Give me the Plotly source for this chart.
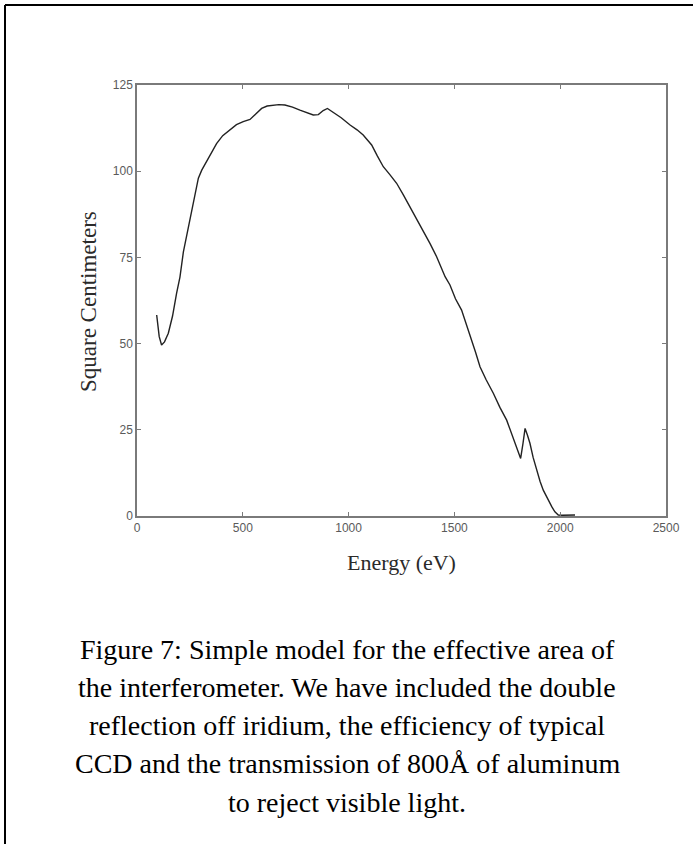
import plotly.graph_objects as go

# Energy (eV) and effective area (square centimeters)
energy = [93, 105, 116, 130, 148, 168, 187, 203, 219, 235, 250, 270, 290, 306, 325, 345, 376, 405,
          440, 470, 502, 534, 560, 589, 615, 644, 670, 699, 735, 770, 800, 833, 857, 880, 900,
          928, 965, 1007, 1040, 1069, 1109, 1135, 1164, 1195, 1227, 1260, 1290, 1320, 1353, 1385,
          1416, 1456, 1479, 1505, 1534, 1555, 1574, 1600, 1621, 1650, 1684, 1715, 1747, 1770,
          1786, 1800, 1813, 1824, 1834, 1845, 1857, 1872, 1889, 1905, 1920, 1940, 1960, 1975,
          1991, 2010, 2040, 2070]
area = [58.3, 52.0, 49.6, 50.5, 53.0, 58.0, 64.6, 69.3, 76.5, 81.5, 85.5, 92.0, 98.0, 100.3, 102.5,
        104.5, 108.0, 110.3, 112.0, 113.5, 114.4, 115.0, 116.5, 118.2, 118.9, 119.2, 119.3, 119.2,
        118.6, 117.7, 117.0, 116.3, 116.4, 117.6, 118.2, 117.0, 115.5, 113.4, 112.0, 110.5, 107.6,
        104.5, 101.3, 99.0, 96.5, 93.0, 89.7, 86.3, 82.9, 79.0, 75.2, 69.4, 67.0, 63.0, 59.7, 56.0,
        52.0, 47.5, 43.3, 39.5, 35.6, 31.5, 27.8, 24.0, 21.1, 18.5, 16.7, 21.0, 25.4, 23.5, 21.1,
        17.0, 13.3, 10.0, 7.5, 5.0, 2.7, 1.2, 0.3, 0.2, 0.2, 0.3]

x_ticks = [0, 500, 1000, 1500, 2000, 2500]
y_ticks = [0, 25, 50, 75, 100, 125]

x_title = "Energy (eV)"
y_title = "Square Centimeters"
caption_lines = [
    "Figure 7: Simple model for the effective area of",
    "the interferometer. We have included the double",
    "reflection off iridium, the efficiency of typical",
    "CCD and the transmission of 800Å of aluminum",
    "to reject visible light.",
]

W, H = 693, 844
L, R, T, B = 137, 666, 85, 516  # plot area in pixels


def px_to_paper_x(px):
    return (px - L) / (R - L)


def px_to_paper_y(py):
    return (B - py) / (B - T)


fig = go.Figure()
fig.add_trace(go.Scatter(x=energy, y=area, mode="lines",
                         line=dict(color="#222222", width=1.4), showlegend=False))

tickfont = dict(family="Liberation Sans Narrow, Arial Narrow, Liberation Sans, Arial",
                size=12, color="#5a5a5a")
axis_common = dict(showgrid=False, zeroline=False, showline=True, linecolor="#7a7a7a",
                   linewidth=1.5, mirror="ticks", ticks="inside", ticklen=4,
                   tickcolor="#7a7a7a", tickwidth=1, tickfont=tickfont)

fig.update_xaxes(range=[0, 2500], tickvals=x_ticks, ticktext=[str(v) for v in x_ticks],
                 **axis_common)
fig.update_yaxes(range=[0, 125], tickvals=y_ticks, ticktext=[str(v) for v in y_ticks],
                 **axis_common)

serif = "Liberation Serif, Times New Roman, serif"
annotations = [
    dict(text=x_title, x=0.5, y=px_to_paper_y(562), xref="paper", yref="paper",
         showarrow=False, font=dict(family=serif, size=22, color="#2a2a2a"),
         xanchor="center", yanchor="middle"),
    dict(text=y_title, x=px_to_paper_x(88), y=px_to_paper_y(302), xref="paper", yref="paper",
         showarrow=False, textangle=-90, font=dict(family=serif, size=23, color="#2a2a2a"),
         xanchor="center", yanchor="middle"),
]
for i, line in enumerate(caption_lines):
    annotations.append(dict(text=line, x=px_to_paper_x(347), y=px_to_paper_y(649 + 38.3 * i),
                            xref="paper", yref="paper", showarrow=False,
                            font=dict(family=serif, size=28, color="#000000"),
                            xanchor="center", yanchor="middle"))

shapes = [
    dict(type="line", xref="paper", yref="paper", x0=px_to_paper_x(5), x1=px_to_paper_x(700),
         y0=px_to_paper_y(5), y1=px_to_paper_y(5), line=dict(color="#000000", width=2)),
    dict(type="line", xref="paper", yref="paper", x0=px_to_paper_x(5), x1=px_to_paper_x(5),
         y0=px_to_paper_y(5), y1=px_to_paper_y(850), line=dict(color="#000000", width=2)),
]

fig.update_layout(width=W, height=H, margin=dict(l=L, r=W - R, t=T, b=H - B, pad=0),
                  paper_bgcolor="white", plot_bgcolor="white",
                  annotations=annotations, shapes=shapes)

fig.write_html("out.html", config={"displayModeBar": False},
               post_script="document.body.style.margin='0px';document.body.style.overflow='hidden';")
